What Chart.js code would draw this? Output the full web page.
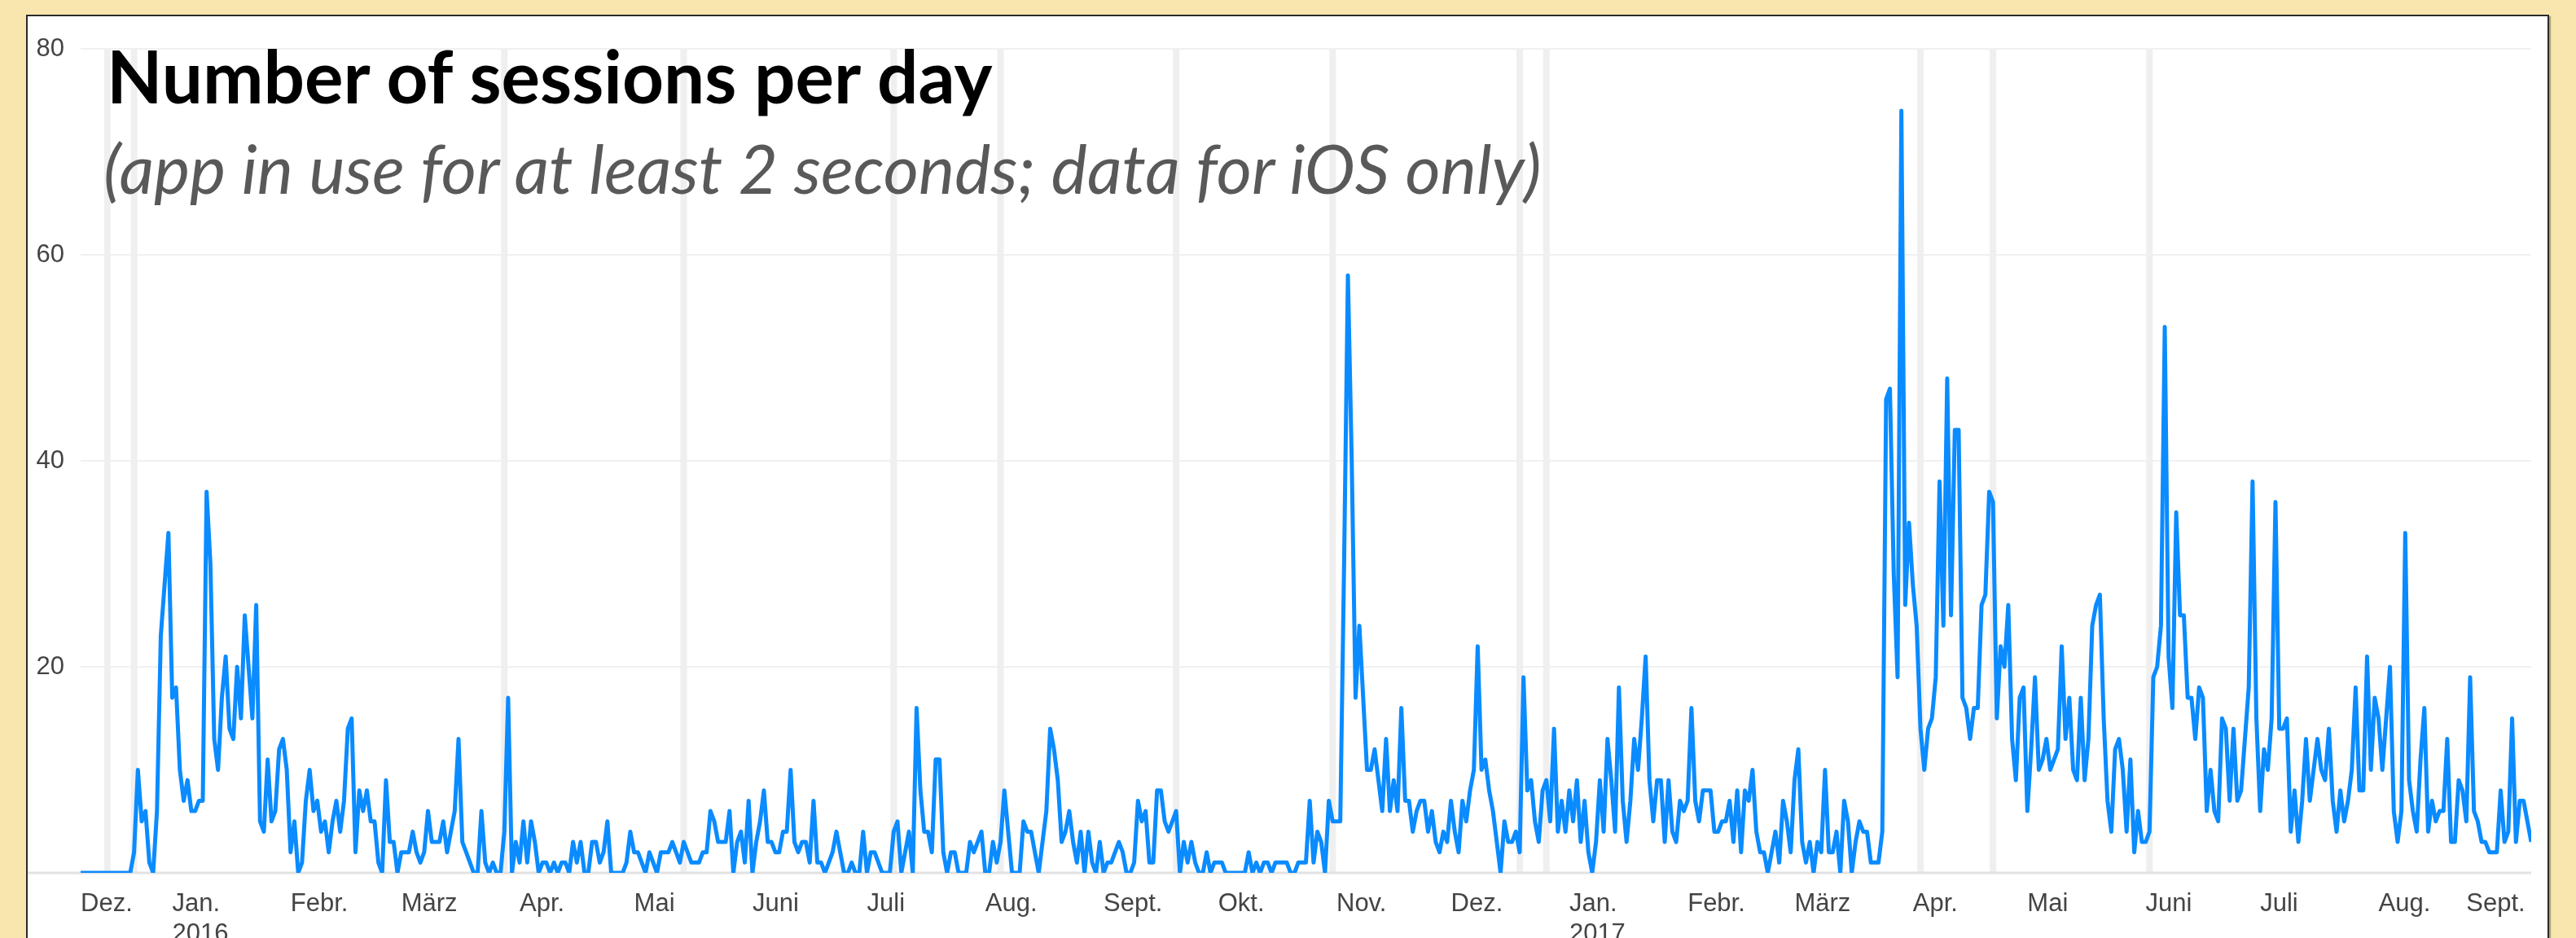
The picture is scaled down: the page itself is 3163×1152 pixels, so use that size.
<!DOCTYPE html>
<html><head><meta charset="utf-8">
<script src="https://cdn.jsdelivr.net/npm/chart.js@4.4.1/dist/chart.umd.min.js"></script>
<style>
html,body{margin:0;padding:0;background:#F9E6AE;width:3163px;height:1152px;overflow:hidden;}
#panel{position:absolute;left:32px;top:18px;width:3094px;height:1200px;background:#fff;border:2px solid #2a2a2a;box-shadow:2px 2px 1px rgba(0,0,0,0.3);}
#wrap{position:absolute;left:0;top:0;width:3163px;height:1152px;}
.ttl{position:absolute;white-space:nowrap;margin:0;padding:0;}
#title{font-family:Lato,"Noto Sans",sans-serif;font-weight:700;color:#000;}
#subtitle{font-family:Lato,"Noto Sans",sans-serif;font-style:italic;font-weight:400;color:#595959;}
</style></head><body>
<div id="panel"></div>
<div id="wrap"><canvas id="c"></canvas></div>
<div id="title" class="ttl">Number of sessions per day</div>
<div id="subtitle" class="ttl">(app in use for at least 2 seconds; data for iOS only)</div>
<script>
// Daily sessions, one array per month (first day shown: 8 Dec 2015)
const dec2015 = [0,0,0,0,0,0,0,0,0,0,0,0,0,0,2,10,5,6,1,0,6,23,28,33];
const jan2016 = [17,18,10,7,9,6,6,7,7,37,30,13,10,17,21,14,13,20,15,25,20,15,26,5,4,11,5,6,12,13,10];
const feb2016 = [2,5,0,1,7,10,6,7,4,5,2,5,7,4,7,14,15,2,8,6,8,5,5,1,0,9,3,3,0];
const mar2016 = [2,2,2,4,2,1,2,6,3,3,3,5,2,4,6,13,3,2,1,0,0,6,1,0,1,0,0,4,17,0,3];
const apr2016 = [1,5,1,5,3,0,1,1,0,1,0,1,1,0,3,1,3,0,0,3,3,1,2,5,0,0,0,0,1,4];
const may2016 = [2,2,1,0,2,1,0,2,2,2,3,2,1,3,2,1,1,1,2,2,6,5,3,3,3,6,0,3,4,1,7];
const jun2016 = [0,3,5,8,3,3,2,2,4,4,10,3,2,3,3,1,7,1,1,0,1,2,4,2,0,0,1,0,0,4];
const jul2016 = [0,2,2,1,0,0,0,4,5,0,2,4,0,16,8,4,4,2,11,11,2,0,2,2,0,0,0,3,2,3,4];
const aug2016 = [0,0,3,1,3,8,4,0,0,0,5,4,4,2,0,3,6,14,12,9,3,4,6,3,1,4,0,4,1,0,3];
const sep2016 = [0,1,1,2,3,2,0,0,1,7,5,6,1,1,8,8,5,4,5,6,0,3,1,3,1,0,0,2,0,1];
const oct2016 = [1,1,0,0,0,0,0,0,2,0,1,0,1,1,0,1,1,1,1,0,0,1,1,1,7,1,4,3,0,7,5];
const nov2016 = [5,5,30,58,40,17,24,17,10,10,12,9,6,13,6,9,6,16,7,7,4,6,7,7,4,6,3,2,4,3];
const dec2016 = [7,4,2,7,5,8,10,22,10,11,8,6,3,0,5,3,3,4,2,19,8,9,5,3,8,9,5,14,4,7,4];
const jan2017 = [8,5,9,3,7,2,0,3,9,4,13,9,4,18,7,3,7,13,10,15,21,9,5,9,9,3,9,4,3,7,6];
const feb2017 = [7,16,7,5,8,8,8,4,4,5,5,7,3,8,2,8,7,10,4,2,2,0,2,4,1,7,5,2];
const mar2017 = [9,12,3,1,3,0,3,2,10,2,2,4,0,7,5,0,3,5,4,4,1,1,1,4,46,47,29,19,74,26,34];
const apr2017 = [28,24,14,10,14,15,19,38,24,48,25,43,43,17,16,13,16,16,26,27,37,36,15,22,20,26,13,9,17,18];
const may2017 = [6,12,19,10,11,13,10,11,12,22,13,17,10,9,17,9,13,24,26,27,15,7,4,12,13,10,4,11,2,6,3];
const jun2017 = [3,4,19,20,24,53,21,16,35,25,25,17,17,13,18,17,6,10,6,5,15,14,7,14,7,8,13,18,38,15];
const jul2017 = [6,12,10,15,36,14,14,15,4,8,3,7,13,7,10,13,10,9,14,7,4,8,5,7,10,18,8,8,21,10,17];
const aug2017 = [15,10,15,20,6,3,6,33,9,6,4,11,16,4,7,5,6,6,13,3,3,9,8,5,19,6,5,3,3,2,2];
const sep2017 = [2,8,3,4,15,3,7,7,5,3];

const sessions = [].concat(dec2015, jan2016, feb2016, mar2016, apr2016, may2016, jun2016,
  jul2016, aug2016, sep2016, oct2016, nov2016, dec2016, jan2017, feb2017, mar2017,
  apr2017, may2017, jun2017, jul2017, aug2017, sep2017);

// Month tick labels and the day index each one is anchored to
const monthLabels = ['Dez.', ['Jan.', '2016'], 'Febr.', 'März', 'Apr.', 'Mai', 'Juni', 'Juli', 'Aug.', 'Sept.', 'Okt.', 'Nov.',
  'Dez.', ['Jan.', '2017'], 'Febr.', 'März', 'Apr.', 'Mai', 'Juni', 'Juli', 'Aug.', 'Sept.'];
const monthTickDays = [0, 24, 55, 84, 115, 145, 176, 206, 237, 268, 298, 329, 359, 390, 421, 449, 480, 510, 541, 571, 602, 625];

// Annotation markers (day index)
const annotationDays = [7, 14, 111, 158, 213, 241, 287, 328, 377, 384, 482, 501, 542];

// y axis ticks
const yTicks = [0, 20, 40, 60, 80];

const annotationPlugin = {
  id: 'annotationBands',
  beforeDatasetsDraw(chart) {
    const {ctx, chartArea, scales} = chart;
    ctx.save();
    ctx.fillStyle = '#efefef';
    annotationDays.forEach(d => {
      const x = scales.x.getPixelForValue(d);
      ctx.fillRect(x - 4, chartArea.top, 8, chartArea.bottom - chartArea.top);
    });
    // baseline extends to the panel's left edge
    const y0 = scales.y.getPixelForValue(0);
    ctx.strokeStyle = '#e2e2e2';
    ctx.lineWidth = 3;
    ctx.beginPath();
    ctx.moveTo(34, y0);
    ctx.lineTo(chartArea.right, y0);
    ctx.stroke();
    ctx.restore();
  }
};

const axisFont = {family: '"Liberation Sans", Arial, sans-serif', size: 31};

new Chart(document.getElementById('c'), {
  type: 'line',
  data: {
    datasets: [{
      data: sessions.map((v, i) => ({x: i, y: v})),
      borderColor: '#0a8bff',
      borderWidth: 5,
      borderJoinStyle: 'round',
      pointRadius: 0,
      tension: 0,
      fill: false
    }]
  },
  options: {
    responsive: true,
    maintainAspectRatio: false,
    animation: false,
    devicePixelRatio: 1,
    layout: {padding: {left: 0, right: 55, top: 60, bottom: 0}},
    plugins: {legend: {display: false}, tooltip: {enabled: false}, title: {display: false}},
    scales: {
      x: {
        type: 'linear',
        min: 0,
        max: sessions.length - 1,
        grid: {display: false, drawTicks: false},
        border: {display: false},
        afterBuildTicks(scale) { scale.ticks = monthTickDays.map(v => ({value: v})); },
        afterFit(scale) { scale.height = 80; },
        ticks: {
          autoSkip: false,
          maxRotation: 0,
          minRotation: 0,
          align: 'start',
          padding: 20,
          color: '#444',
          font: axisFont,
          callback(value, index) { return monthLabels[index]; }
        }
      },
      y: {
        min: 0,
        max: 80,
        afterBuildTicks(scale) { scale.ticks = yTicks.map(v => ({value: v})); },
        afterFit(scale) { scale.width = 99; },
        grid: {
          drawTicks: false,
          lineWidth: 2,
          color: ctx => (ctx.tick && ctx.tick.value === 0) ? 'rgba(0,0,0,0)' : '#f0f0f0'
        },
        border: {display: false},
        ticks: {
          padding: 20,
          color: '#444',
          font: axisFont,
          callback(v) { return v === 0 ? '' : String(v); }
        }
      }
    }
  },
  plugins: [annotationPlugin]
});

// Title and subtitle (HTML text), sized to the reference widths
function placeText(id, fontTpl, targetWidth, left, baseline) {
  const el = document.getElementById(id);
  const cv = document.createElement('canvas').getContext('2d');
  cv.font = fontTpl(100);
  const w = cv.measureText(el.textContent).width;
  const size = 100 * targetWidth / w;
  cv.font = fontTpl(size);
  const m = cv.measureText(el.textContent);
  const asc = m.fontBoundingBoxAscent, desc = m.fontBoundingBoxDescent;
  el.style.fontSize = size + 'px';
  el.style.lineHeight = (asc + desc) + 'px';
  el.style.left = left + 'px';
  el.style.top = (baseline - asc) + 'px';
}
placeText('title', s => `700 ${s}px Lato`, 1093, 131, 127);
placeText('subtitle', s => `italic 400 ${s}px Lato`, 1769, 127, 238);
</script>
</body></html>
